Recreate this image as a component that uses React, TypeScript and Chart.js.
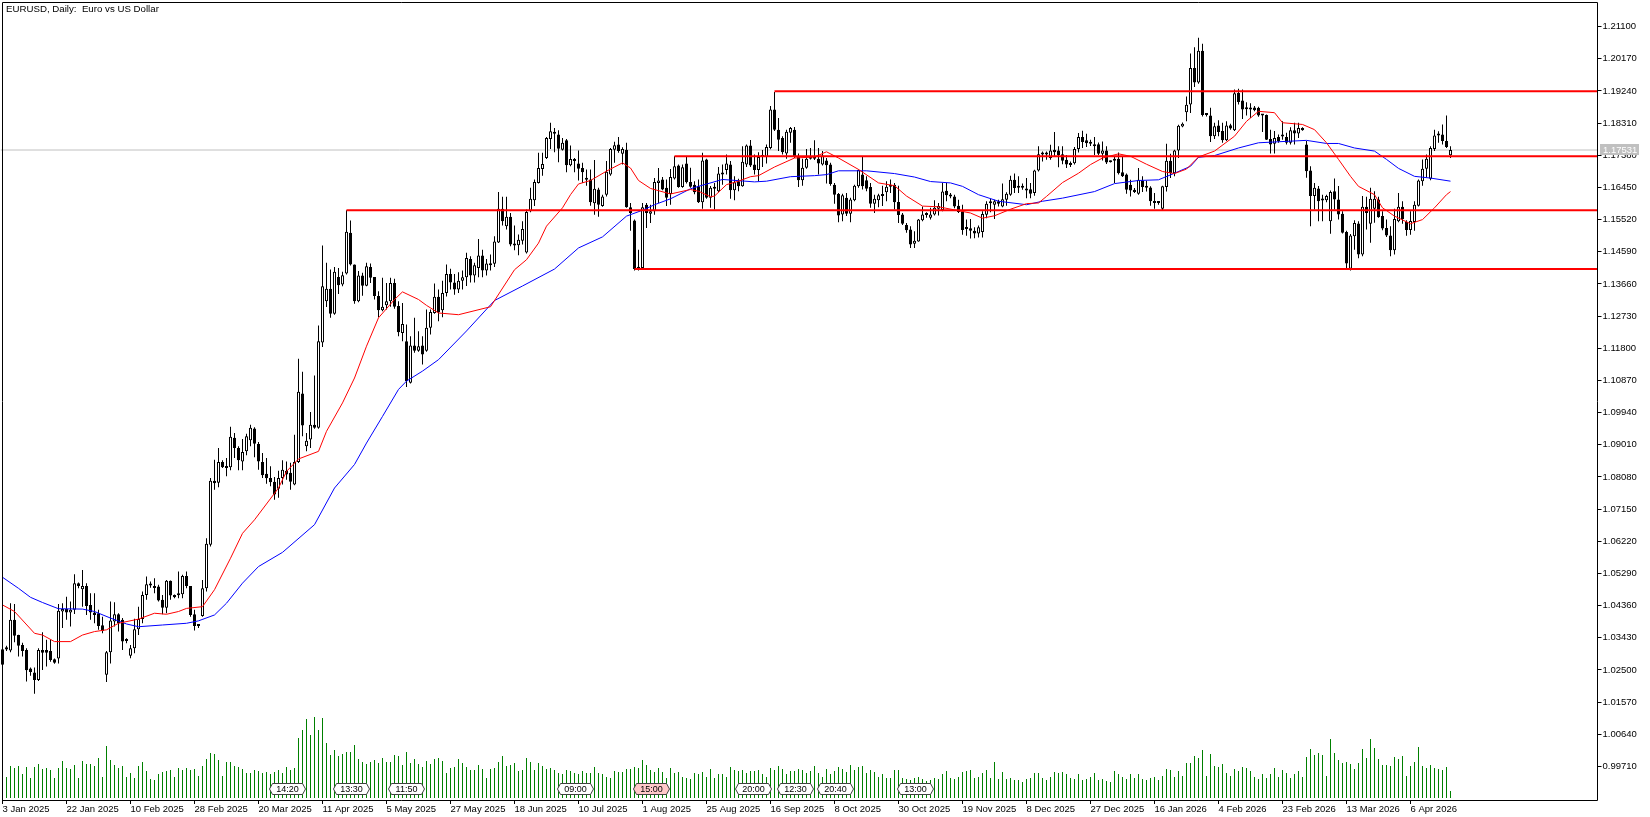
import React, { useEffect, useRef } from "react";
import { Chart, registerables } from "chart.js";

Chart.register(...registerables);

const titleText = "EURUSD, Daily:  Euro vs US Dollar";
const priceTicks = [1.211,1.2017,1.1924,1.1831,1.1738,1.1645,1.1552,1.1459,1.1366,1.1273,1.118,1.1087,1.0994,1.0901,1.0808,1.0715,1.0622,1.0529,1.0436,1.0343,1.025,1.0157,1.0064,0.9971];
const dateLabels = ["3 Jan 2025","22 Jan 2025","10 Feb 2025","28 Feb 2025","20 Mar 2025","11 Apr 2025","5 May 2025","27 May 2025","18 Jun 2025","10 Jul 2025","1 Aug 2025","25 Aug 2025","16 Sep 2025","8 Oct 2025","30 Oct 2025","19 Nov 2025","8 Dec 2025","27 Dec 2025","16 Jan 2026","4 Feb 2026","23 Feb 2026","13 Mar 2026","6 Apr 2026"];
const lastPrice = 1.17531;

const opens = [
1.0310,1.0316,1.0306,1.0395,1.0351,1.0322,1.0308,1.0254,1.0243,1.0221,
1.0308,1.0308,1.0305,1.0281,1.0283,1.0419,1.0426,1.0416,1.0424,1.0501,
1.0483,1.0493,1.0438,1.0416,1.0414,1.0379,1.0236,1.0301,1.0390,1.0411,
1.0395,1.0335,1.0291,1.0313,1.0368,1.0397,1.0467,1.0498,1.0488,1.0491,
1.0453,1.0430,1.0508,1.0467,1.0472,1.0469,1.0522,1.0493,1.0411,1.0382,
1.0406,1.0486,1.0612,1.0797,1.0791,1.0851,1.0839,1.0836,1.0921,1.0892,
1.0853,1.0882,1.0914,1.0948,1.0903,1.0851,1.0817,1.0805,1.0794,1.0774,
1.0805,1.0826,1.0820,1.0786,1.0851,1.1049,1.0897,1.0916,1.0959,1.0950,
1.1197,1.1316,1.1352,1.1280,1.1386,1.1364,1.1396,1.1514,1.1422,1.1316,
1.1390,1.1361,1.1415,1.1386,1.1331,1.1290,1.1304,1.1316,1.1369,1.1302,
1.1224,1.1200,1.1080,1.1188,1.1173,1.1188,1.1173,1.1239,1.1282,1.1329,
1.1290,1.1340,1.1395,1.1370,1.1350,1.1375,1.1385,1.1438,1.1390,1.1412,
1.1448,1.1405,1.1425,1.1424,1.1486,1.1583,1.1533,1.1560,1.1482,1.1478,
1.1491,1.1457,1.1576,1.1608,1.1658,1.1698,1.1730,1.1785,1.1804,1.1798,
1.1754,1.1781,1.1709,1.1723,1.1714,1.1701,1.1671,1.1668,1.1599,1.1639,
1.1591,1.1624,1.1682,1.1754,1.1769,1.1742,1.1754,1.1588,1.1549,1.1410,
1.1412,1.1595,1.1569,1.1576,1.1658,1.1668,1.1644,1.1626,1.1671,1.1708,
1.1646,1.1714,1.1661,1.1653,1.1648,1.1602,1.1726,1.1615,1.1646,1.1634,
1.1682,1.1695,1.1711,1.1637,1.1663,1.1648,1.1711,1.1766,1.1711,1.1695,
1.1735,1.1733,1.1759,1.1870,1.1812,1.1788,1.1743,1.1803,1.1812,1.1735,
1.1666,1.1702,1.1733,1.1728,1.1728,1.1711,1.1723,1.1711,1.1653,1.1626,
1.1567,1.1615,1.1569,1.1608,1.1648,1.1682,1.1666,1.1646,1.1598,1.1608,
1.1620,1.1631,1.1647,1.1653,1.1603,1.1567,1.1536,1.1523,1.1482,1.1489,
1.1550,1.1567,1.1557,1.1567,1.1583,1.1580,1.1635,1.1624,1.1619,1.1592,
1.1576,1.1525,1.1527,1.1520,1.1512,1.1516,1.1566,1.1600,1.1595,1.1605,
1.1590,1.1609,1.1624,1.1667,1.1646,1.1646,1.1641,1.1640,1.1629,1.1694,
1.1741,1.1741,1.1730,1.1754,1.1752,1.1741,1.1725,1.1711,1.1715,1.1756,
1.1791,1.1781,1.1776,1.1764,1.1770,1.1742,1.1752,1.1722,1.1722,1.1728,
1.1689,1.1682,1.1653,1.1638,1.1627,1.1665,1.1645,1.1645,1.1606,1.1602,
1.1583,1.1646,1.1722,1.1686,1.1752,1.1821,1.1862,1.1885,1.1990,1.1948,
1.2040,1.1858,1.1853,1.1793,1.1824,1.1808,1.1781,1.1825,1.1810,1.1918,
1.1896,1.1872,1.1875,1.1876,1.1875,1.1855,1.1854,1.1785,1.1771,1.1791,
1.1793,1.1791,1.1774,1.1810,1.1801,1.1817,1.1769,1.1694,1.1620,1.1642,
1.1608,1.1608,1.1547,1.1634,1.1610,1.1569,1.1516,1.1410,1.1504,1.1541,
1.1451,1.1589,1.1540,1.1583,1.1610,1.1562,1.1528,1.1506,1.1463,1.1547,
1.1589,1.1545,1.1522,1.1545,1.1592,1.1663,1.1699,1.1670,1.1756,1.1795,
1.1798,1.1779,1.1738];
const highs = [
1.0318,1.0320,1.0443,1.0441,1.0352,1.0329,1.0313,1.0257,1.0257,1.0313,
1.0359,1.0337,1.0337,1.0283,1.0441,1.0443,1.0462,1.0448,1.0527,1.0503,
1.0539,1.0501,1.0472,1.0472,1.0424,1.0404,1.0305,1.0448,1.0446,1.0414,
1.0400,1.0342,1.0322,1.0398,1.0433,1.0477,1.0520,1.0506,1.0515,1.0496,
1.0467,1.0510,1.0509,1.0468,1.0535,1.0525,1.0535,1.0493,1.0424,1.0382,
1.0510,1.0631,1.0805,1.0858,1.0892,1.0856,1.0863,1.0953,1.0935,1.0897,
1.0918,1.0933,1.0959,1.0952,1.0909,1.0877,1.0863,1.0839,1.0808,1.0826,
1.0856,1.0853,1.0849,1.0930,1.1150,1.1112,1.0935,1.0996,1.1101,1.1246,
1.1477,1.1427,1.1408,1.1415,1.1412,1.1401,1.1579,1.1549,1.1422,1.1403,
1.1398,1.1427,1.1425,1.1386,1.1345,1.1384,1.1369,1.1384,1.1381,1.1316,
1.1311,1.1249,1.1215,1.1268,1.1229,1.1215,1.1292,1.1292,1.1367,1.1350,
1.1375,1.1422,1.1410,1.1395,1.1400,1.1405,1.1456,1.1446,1.1427,1.1496,
1.1465,1.1438,1.1451,1.1504,1.1632,1.1618,1.1618,1.1571,1.1535,1.1509,
1.1547,1.1581,1.1644,1.1668,1.1745,1.1745,1.1791,1.1832,1.1817,1.1810,
1.1788,1.1785,1.1766,1.1730,1.1752,1.1716,1.1697,1.1697,1.1724,1.1644,
1.1624,1.1721,1.1759,1.1777,1.1791,1.1761,1.1774,1.1600,1.1552,1.1465,
1.1600,1.1600,1.1595,1.1672,1.1701,1.1675,1.1668,1.1698,1.1735,1.1711,
1.1711,1.1735,1.1702,1.1663,1.1668,1.1745,1.1728,1.1649,1.1658,1.1704,
1.1711,1.1740,1.1721,1.1677,1.1670,1.1764,1.1769,1.1782,1.1740,1.1747,
1.1753,1.1769,1.1880,1.1921,1.1846,1.1793,1.1812,1.1820,1.1820,1.1743,
1.1728,1.1756,1.1759,1.1781,1.1759,1.1750,1.1730,1.1716,1.1658,1.1629,
1.1627,1.1629,1.1615,1.1653,1.1697,1.1733,1.1677,1.1658,1.1624,1.1627,
1.1650,1.1663,1.1668,1.1658,1.1650,1.1571,1.1542,1.1533,1.1518,1.1554,
1.1590,1.1573,1.1586,1.1608,1.1600,1.1658,1.1658,1.1629,1.1624,1.1609,
1.1595,1.1552,1.1554,1.1530,1.1535,1.1576,1.1605,1.1612,1.1609,1.1609,
1.1656,1.1631,1.1679,1.1685,1.1677,1.1656,1.1672,1.1658,1.1696,1.1764,
1.1749,1.1749,1.1768,1.1805,1.1764,1.1764,1.1739,1.1720,1.1762,1.1802,
1.1809,1.1800,1.1783,1.1791,1.1775,1.1778,1.1764,1.1723,1.1735,1.1746,
1.1733,1.1685,1.1667,1.1643,1.1701,1.1677,1.1664,1.1648,1.1629,1.1605,
1.1650,1.1771,1.1742,1.1754,1.1826,1.1833,1.1908,1.2032,1.2050,1.2078,
1.2060,1.1860,1.1875,1.1832,1.1839,1.1832,1.1836,1.1829,1.1928,1.1930,
1.1928,1.1891,1.1888,1.1880,1.1878,1.1856,1.1856,1.1812,1.1808,1.1798,
1.1836,1.1803,1.1819,1.1832,1.1832,1.1819,1.1779,1.1706,1.1658,1.1649,
1.1624,1.1624,1.1636,1.1671,1.1649,1.1576,1.1520,1.1510,1.1550,1.1547,
1.1620,1.1618,1.1644,1.1634,1.1618,1.1576,1.1552,1.1533,1.1583,1.1629,
1.1605,1.1550,1.1576,1.1605,1.1668,1.1726,1.1740,1.1764,1.1812,1.1807,
1.1827,1.1853,1.1764];
const lows = [
1.0245,1.0305,1.0301,1.0330,1.0289,1.0289,1.0217,1.0233,1.0181,1.0218,
1.0250,1.0260,1.0274,1.0268,1.0269,1.0371,1.0395,1.0376,1.0412,1.0486,
1.0433,1.0409,1.0395,1.0385,1.0366,1.0356,1.0215,1.0269,1.0376,1.0361,
1.0308,1.0327,1.0284,1.0298,1.0351,1.0385,1.0453,1.0488,1.0472,1.0448,
1.0411,1.0414,1.0453,1.0457,1.0457,1.0457,1.0486,1.0404,1.0364,1.0371,
1.0404,1.0477,1.0607,1.0771,1.0778,1.0834,1.0810,1.0827,1.0863,1.0827,
1.0827,1.0871,1.0897,1.0865,1.0829,1.0805,1.0788,1.0781,1.0742,1.0748,
1.0786,1.0800,1.0771,1.0784,1.0848,1.0926,1.0882,1.0892,1.0947,1.0947,
1.1184,1.1299,1.1268,1.1277,1.1337,1.1359,1.1393,1.1419,1.1309,1.1313,
1.1332,1.1359,1.1369,1.1321,1.1270,1.1287,1.1292,1.1300,1.1294,1.1215,
1.1200,1.1068,1.1078,1.1167,1.1170,1.1133,1.1170,1.1220,1.1280,1.1258,
1.1270,1.1330,1.1350,1.1335,1.1340,1.1350,1.1360,1.1370,1.1370,1.1385,
1.1385,1.1390,1.1405,1.1415,1.1484,1.1535,1.1523,1.1475,1.1463,1.1449,
1.1480,1.1454,1.1573,1.1591,1.1656,1.1679,1.1727,1.1756,1.1747,1.1718,
1.1752,1.1689,1.1706,1.1689,1.1665,1.1658,1.1650,1.1592,1.1566,1.1560,
1.1589,1.1619,1.1679,1.1716,1.1745,1.1711,1.1586,1.1520,1.1405,1.1405,
1.1408,1.1528,1.1542,1.1566,1.1600,1.1637,1.1591,1.1595,1.1668,1.1644,
1.1644,1.1656,1.1644,1.1625,1.1600,1.1583,1.1612,1.1586,1.1581,1.1631,
1.1653,1.1682,1.1612,1.1608,1.1634,1.1647,1.1704,1.1704,1.1682,1.1663,
1.1704,1.1714,1.1755,1.1808,1.1750,1.1740,1.1728,1.1774,1.1730,1.1646,
1.1650,1.1699,1.1726,1.1724,1.1682,1.1708,1.1656,1.1650,1.1598,1.1544,
1.1547,1.1562,1.1544,1.1605,1.1644,1.1639,1.1634,1.1586,1.1571,1.1588,
1.1591,1.1605,1.1629,1.1581,1.1542,1.1536,1.1514,1.1470,1.1470,1.1488,
1.1547,1.1557,1.1552,1.1564,1.1564,1.1576,1.1605,1.1614,1.1585,1.1571,
1.1508,1.1505,1.1497,1.1498,1.1500,1.1500,1.1556,1.1573,1.1554,1.1590,
1.1588,1.1592,1.1621,1.1629,1.1629,1.1638,1.1614,1.1614,1.1621,1.1691,
1.1720,1.1725,1.1725,1.1735,1.1703,1.1712,1.1701,1.1704,1.1711,1.1746,
1.1759,1.1762,1.1765,1.1739,1.1739,1.1723,1.1713,1.1717,1.1658,1.1682,
1.1675,1.1627,1.1619,1.1629,1.1624,1.1632,1.1633,1.1592,1.1583,1.1595,
1.1580,1.1633,1.1672,1.1677,1.1730,1.1819,1.1836,1.1860,1.1935,1.1945,
1.1850,1.1850,1.1776,1.1785,1.1793,1.1774,1.1779,1.1812,1.1808,1.1885,
1.1843,1.1853,1.1846,1.1865,1.1849,1.1805,1.1782,1.1743,1.1743,1.1774,
1.1783,1.1769,1.1769,1.1769,1.1788,1.1809,1.1673,1.1533,1.1581,1.1547,
1.1547,1.1602,1.1511,1.1581,1.1552,1.1512,1.1410,1.1405,1.1465,1.1440,
1.1446,1.1523,1.1485,1.1543,1.1557,1.1521,1.1502,1.1446,1.1451,1.1544,
1.1540,1.1505,1.1508,1.1520,1.1590,1.1650,1.1673,1.1666,1.1750,1.1774,
1.1769,1.1759,1.1730];
const closes = [
1.0265,1.0309,1.0395,1.0349,1.0320,1.0305,1.0249,1.0244,1.0221,1.0308,
1.0300,1.0300,1.0279,1.0271,1.0421,1.0426,1.0416,1.0424,1.0501,1.0493,
1.0493,1.0435,1.0416,1.0409,1.0377,1.0363,1.0301,1.0393,1.0411,1.0385,
1.0332,1.0334,1.0313,1.0368,1.0397,1.0467,1.0498,1.0494,1.0487,1.0451,
1.0430,1.0508,1.0465,1.0460,1.0466,1.0522,1.0493,1.0409,1.0377,1.0377,
1.0486,1.0615,1.0797,1.0790,1.0851,1.0836,1.0834,1.0924,1.0892,1.0856,
1.0880,1.0926,1.0950,1.0904,1.0853,1.0813,1.0804,1.0793,1.0757,1.0805,
1.0829,1.0815,1.0794,1.0851,1.1054,1.0957,1.0913,1.0959,1.0950,1.1200,
1.1359,1.1352,1.1280,1.1401,1.1362,1.1391,1.1517,1.1422,1.1316,1.1390,
1.1361,1.1417,1.1384,1.1331,1.1290,1.1300,1.1316,1.1369,1.1300,1.1226,
1.1250,1.1085,1.1188,1.1173,1.1186,1.1162,1.1239,1.1285,1.1329,1.1284,
1.1340,1.1395,1.1370,1.1350,1.1375,1.1385,1.1441,1.1390,1.1420,1.1448,
1.1405,1.1425,1.1420,1.1489,1.1583,1.1547,1.1560,1.1480,1.1477,1.1494,
1.1525,1.1574,1.1612,1.1661,1.1701,1.1713,1.1788,1.1807,1.1800,1.1757,
1.1774,1.1709,1.1727,1.1721,1.1699,1.1689,1.1667,1.1602,1.1641,1.1595,
1.1619,1.1690,1.1756,1.1767,1.1750,1.1756,1.1588,1.1571,1.1409,1.1415,
1.1588,1.1571,1.1576,1.1661,1.1665,1.1639,1.1615,1.1675,1.1706,1.1646,
1.1703,1.1660,1.1647,1.1631,1.1602,1.1723,1.1615,1.1644,1.1641,1.1685,
1.1687,1.1714,1.1637,1.1660,1.1648,1.1719,1.1766,1.1708,1.1695,1.1733,
1.1733,1.1762,1.1870,1.1812,1.1783,1.1747,1.1806,1.1817,1.1735,1.1666,
1.1702,1.1728,1.1728,1.1733,1.1714,1.1737,1.1709,1.1655,1.1624,1.1564,
1.1622,1.1569,1.1610,1.1650,1.1695,1.1648,1.1641,1.1598,1.1612,1.1622,
1.1626,1.1647,1.1653,1.1602,1.1565,1.1540,1.1521,1.1480,1.1491,1.1552,
1.1567,1.1565,1.1567,1.1586,1.1591,1.1633,1.1622,1.1619,1.1590,1.1574,
1.1522,1.1527,1.1520,1.1512,1.1530,1.1568,1.1598,1.1599,1.1605,1.1598,
1.1611,1.1627,1.1667,1.1643,1.1644,1.1644,1.1636,1.1627,1.1694,1.1741,
1.1740,1.1740,1.1752,1.1747,1.1739,1.1722,1.1711,1.1710,1.1756,1.1791,
1.1776,1.1773,1.1771,1.1770,1.1742,1.1752,1.1717,1.1718,1.1728,1.1686,
1.1677,1.1638,1.1636,1.1632,1.1667,1.1646,1.1644,1.1605,1.1600,1.1600,
1.1648,1.1722,1.1686,1.1752,1.1823,1.1829,1.1884,1.1990,1.1948,1.2040,
1.1854,1.1854,1.1793,1.1822,1.1805,1.1781,1.1824,1.1815,1.1917,1.1892,
1.1870,1.1871,1.1870,1.1868,1.1853,1.1853,1.1783,1.1769,1.1788,1.1779,
1.1792,1.1774,1.1810,1.1801,1.1817,1.1810,1.1692,1.1620,1.1644,1.1605,
1.1607,1.1620,1.1632,1.1610,1.1567,1.1514,1.1425,1.1506,1.1542,1.1451,
1.1589,1.1571,1.1612,1.1612,1.1559,1.1526,1.1506,1.1463,1.1554,1.1589,
1.1554,1.1522,1.1548,1.1595,1.1665,1.1699,1.1728,1.1759,1.1795,1.1801,
1.1779,1.1762,1.1753];

const volumes = [
20,21,32,30,32,24,31,20,31,34,29,30,28,20,30,37,30,29,33,20,37,34,34,32,40,21,52,38,33,30,
32,21,25,20,32,36,27,19,18,24,26,27,28,21,30,28,30,28,29,22,32,39,45,44,38,22,36,36,32,31,
29,25,25,28,27,25,26,24,26,28,25,31,28,30,60,68,79,63,81,68,80,55,43,48,42,44,46,46,53,39,
36,34,36,38,35,40,36,36,43,42,33,46,35,39,34,31,37,34,39,40,37,25,30,31,39,35,31,28,28,33,
29,20,29,30,36,42,32,33,35,27,28,40,36,28,35,32,29,30,28,25,24,28,27,25,24,27,25,25,31,25,
24,21,20,27,26,26,29,29,31,30,38,33,28,26,30,26,20,30,25,26,21,20,19,25,24,26,21,29,20,24,
24,21,31,28,27,28,25,27,27,28,24,21,30,28,32,29,24,27,27,29,28,25,27,32,25,21,29,24,27,31,
29,26,33,28,31,32,25,28,26,21,24,20,20,28,28,20,19,18,20,21,19,17,18,20,19,24,27,20,19,21,
26,27,28,20,21,25,28,20,36,19,26,19,20,18,18,16,19,20,25,25,20,18,21,26,25,26,24,20,19,24,
18,19,21,25,18,19,17,16,27,24,21,19,24,20,24,19,18,20,21,18,22,29,28,21,27,22,35,35,42,40,
48,22,44,32,31,34,25,22,29,27,31,30,27,21,19,24,20,24,30,21,28,25,20,24,27,21,41,49,43,45,
43,22,59,45,38,35,36,34,29,35,49,40,59,50,39,33,33,32,41,39,42,22,32,36,51,32,30,33,30,29,
28,31,7];

const redBars = [0,3,8,10,13,17,20,23,26,29,34,38,41,44,46,50,53,57,60,63,69,71,74,79,81,85,88,91,94,98,100,104,106,109,114,122,128,131,134,136,140,142,144,147,151,155,157,159,162,167,172,174,177,178,181,184,187,189,193,198,203,206,209,214,219,223,226,230,234,238,242,245,248,252,256,259,261,265,269,272,275,279,282,286,290,293,296,299,303,308,311,314,318,320,325,328,331,334,337,339,343,345,348,352,355,358,361,362];
const redValues = [1.0438,1.0419,1.0356,1.0351,1.0332,1.0332,1.0351,1.0361,1.0366,1.0385,1.0397,1.0414,1.0411,1.0419,1.0428,1.0433,1.0482,1.0573,1.0645,1.0684,1.0776,1.0824,1.0860,1.0882,1.0940,1.1022,1.1094,1.1186,1.1268,1.1321,1.1343,1.1321,1.1304,1.1282,1.1277,1.1300,1.1407,1.1436,1.1484,1.1533,1.1586,1.1624,1.1655,1.1665,1.1692,1.1716,1.1701,1.1665,1.1642,1.1626,1.1639,1.1634,1.1618,1.1620,1.1653,1.1663,1.1676,1.1679,1.1704,1.1730,1.1733,1.1748,1.1730,1.1697,1.1658,1.1650,1.1620,1.1591,1.1589,1.1580,1.1571,1.1556,1.1563,1.1582,1.1598,1.1600,1.1619,1.1659,1.1686,1.1711,1.1730,1.1742,1.1735,1.1712,1.1691,1.1685,1.1698,1.1733,1.1750,1.1793,1.1836,1.1865,1.1861,1.1832,1.1827,1.1812,1.1774,1.1726,1.1677,1.1648,1.1624,1.1586,1.1562,1.1540,1.1552,1.1586,1.1624,1.1633];
const blueBars = [0,4,7,10,14,20,23,27,31,34,40,46,49,53,56,60,64,70,78,83,88,91,95,99,101,105,109,116,123,130,138,144,150,156,160,163,167,172,174,180,188,191,197,203,206,209,216,223,228,232,237,240,244,249,256,260,265,273,278,284,289,293,297,299,303,309,314,319,326,331,334,338,343,346,349,353,357,362];
const blueValues = [1.0518,1.0486,1.0460,1.0445,1.0427,1.0426,1.0419,1.0400,1.0383,1.0375,1.0380,1.0385,1.0392,1.0409,1.0443,1.0501,1.0549,1.0590,1.0670,1.0776,1.0844,1.0906,1.0983,1.1061,1.1085,1.1114,1.1147,1.1230,1.1318,1.1360,1.1409,1.1470,1.1502,1.1562,1.1579,1.1595,1.1612,1.1641,1.1648,1.1668,1.1661,1.1663,1.1676,1.1679,1.1682,1.1693,1.1693,1.1685,1.1675,1.1662,1.1658,1.1648,1.1624,1.1605,1.1595,1.1605,1.1614,1.1633,1.1656,1.1665,1.1667,1.1686,1.1706,1.1732,1.1737,1.1759,1.1774,1.1777,1.1781,1.1772,1.1772,1.1759,1.1750,1.1726,1.1700,1.1677,1.1672,1.1663];

const levelPrices = [1.1923, 1.1735, 1.1579, 1.1409];
const levelStartBars = [193, 168, 86, 158];

const timeTags = ["14:20","13:30","11:50","09:00","15:00","20:00","12:30","20:40","13:00"];
const timeTagBars = [71,87,101,143,162,187.5,198,208,228];

const BLACK = "#000000";
const FONT = "Liberation Sans";
const X_MAX = 398.75;

const noPadding = (s: any) => {
  s.paddingTop = 0;
  s.paddingBottom = 0;
  s.paddingLeft = 0;
  s.paddingRight = 0;
};

export default function App() {
  const ref = useRef<HTMLCanvasElement>(null);
  useEffect(() => {
    const canvas = ref.current!;
    const overlay = {
      id: "overlay",
      afterDraw(c: any) {
        const g = c.ctx;
        g.save();
        g.strokeStyle = BLACK;
        g.lineWidth = 1;
        g.beginPath();
        g.moveTo(2.5, 800.5);
        g.lineTo(2.5, 2.5);
        g.lineTo(1597.5, 2.5);
        g.lineTo(1597.5, 800.5);
        g.lineTo(2.5, 800.5);
        g.stroke();

        g.fillStyle = BLACK;
        g.font = `9.7px ${FONT}`;
        g.textBaseline = "middle";
        g.textAlign = "left";
        g.fillText(titleText, 6, 9.5);

        const yTag = c.scales.yVol.getPixelForValue(9);
        g.font = `9px ${FONT}`;
        g.textAlign = "center";
        timeTags.forEach((t, k) => {
          const cx = Math.round(c.scales.x.getPixelForValue(timeTagBars[k])) + 0.5;
          const hw = 15;
          const top = Math.round(yTag) - 5.5;
          const bot = top + 11;
          g.beginPath();
          g.moveTo(cx - hw, top);
          g.lineTo(cx + hw, top);
          g.lineTo(cx + hw + 3, top + 5.5);
          g.lineTo(cx + hw, bot);
          g.lineTo(cx - hw, bot);
          g.lineTo(cx - hw - 3, top + 5.5);
          g.closePath();
          g.fillStyle = t === "15:00" ? "#ffc8c8" : "#ffffff";
          g.fill();
          g.strokeStyle = "#404040";
          g.stroke();
          g.fillStyle = BLACK;
          g.fillText(t, cx, top + 6);
        });

        const yLast = c.scales.y.getPixelForValue(lastPrice);
        g.fillStyle = "#c0c0c0";
        g.fillRect(1600, Math.round(yLast) - 6, 39, 11);
        g.fillStyle = "#ffffff";
        g.font = `9.5px ${FONT}`;
        g.textAlign = "left";
        g.fillText(lastPrice.toFixed(5), 1603, Math.round(yLast));
        g.restore();
      },
    };

    const xy = (i: number, y: any) => ({ x: i, y });
    const chart = new Chart(canvas, {
      type: "bar",
      data: {
        datasets: [
          ...levelPrices.map((p, k) => ({
            type: "line" as const,
            data: [xy(levelStartBars[k], p), xy(X_MAX, p)],
            borderColor: "#ff0000",
            borderWidth: 2,
            pointRadius: 0,
            order: 1,
          })),
          {
            type: "line" as const,
            data: redBars.map((b, i) => xy(b, redValues[i])),
            borderColor: "#ff0000",
            borderWidth: 1,
            pointRadius: 0,
            tension: 0,
            order: 2,
          },
          {
            type: "line" as const,
            data: blueBars.map((b, i) => xy(b, blueValues[i])),
            borderColor: "#0000ff",
            borderWidth: 1,
            pointRadius: 0,
            tension: 0,
            order: 3,
          },
          {
            type: "bar" as const,
            data: opens.map((o, i) => xy(i, [o, closes[i]])),
            backgroundColor: opens.map((o, i) => (closes[i] >= o ? "#ffffff" : BLACK)),
            borderColor: BLACK,
            borderWidth: 1,
            borderSkipped: false,
            barThickness: 3,
            minBarLength: 2,
            inflateAmount: 0,
            grouped: false,
            order: 4,
          },
          {
            type: "bar" as const,
            data: highs.map((h, i) => xy(i, [lows[i], h])),
            backgroundColor: BLACK,
            borderWidth: 0,
            barThickness: 1,
            inflateAmount: 0,
            grouped: false,
            order: 5,
          },
          {
            type: "line" as const,
            data: [xy(-0.5, lastPrice), xy(X_MAX, lastPrice)],
            borderColor: "#c0c0c0",
            borderWidth: 1,
            pointRadius: 0,
            order: 6,
          },
          {
            type: "bar" as const,
            data: volumes.map((v, i) => xy(i, v)),
            yAxisID: "yVol",
            backgroundColor: "#008000",
            borderWidth: 0,
            barThickness: 1,
            inflateAmount: 0,
            grouped: false,
            order: 7,
          },
        ] as any,
      },
      options: {
        responsive: false,
        animation: false,
        layout: { autoPadding: false, padding: { left: 0.5, top: 2, right: 0, bottom: 0 } },
        plugins: { legend: { display: false }, tooltip: { enabled: false } },
        events: [],
        scales: {
          x: {
            type: "linear",
            offset: false,
            min: -0.5,
            max: X_MAX,
            afterBuildTicks: (s: any) => {
              s.ticks = dateLabels.map((_, k) => ({ value: k * 16 }));
            },
            afterFit: (s: any) => {
              s.height = 17;
              noPadding(s);
            },
            grid: { drawOnChartArea: false, tickLength: 4, tickColor: BLACK, offset: false },
            border: { display: false },
            ticks: {
              autoSkip: false,
              maxRotation: 0,
              align: "start",
              padding: 0,
              color: BLACK,
              font: { family: FONT, size: 9.5 },
              callback: (v: any) => dateLabels[Math.round(v / 16)] ?? "",
            },
          },
          y: {
            position: "right",
            min: 0.98741,
            max: 1.2181,
            afterBuildTicks: (s: any) => {
              s.ticks = priceTicks.map((value) => ({ value }));
            },
            afterFit: (s: any) => {
              s.width = 52.5;
              noPadding(s);
            },
            grid: { drawOnChartArea: false, tickLength: 4, tickColor: BLACK },
            border: { display: false },
            ticks: {
              padding: 1,
              color: BLACK,
              font: { family: FONT, size: 9.5 },
              callback: (v: any) => Number(v).toFixed(5),
            },
          },
          yVol: {
            display: false,
            min: -2,
            max: 796,
          },
        },
      } as any,
      plugins: [overlay],
    } as any);
    return () => chart.destroy();
  }, []);
  return (
    <canvas
      ref={ref}
      width={1650}
      height={817}
      style={{ position: "absolute", left: 0, top: 0, width: 1650, height: 817, display: "block" }}
    />
  );
}
